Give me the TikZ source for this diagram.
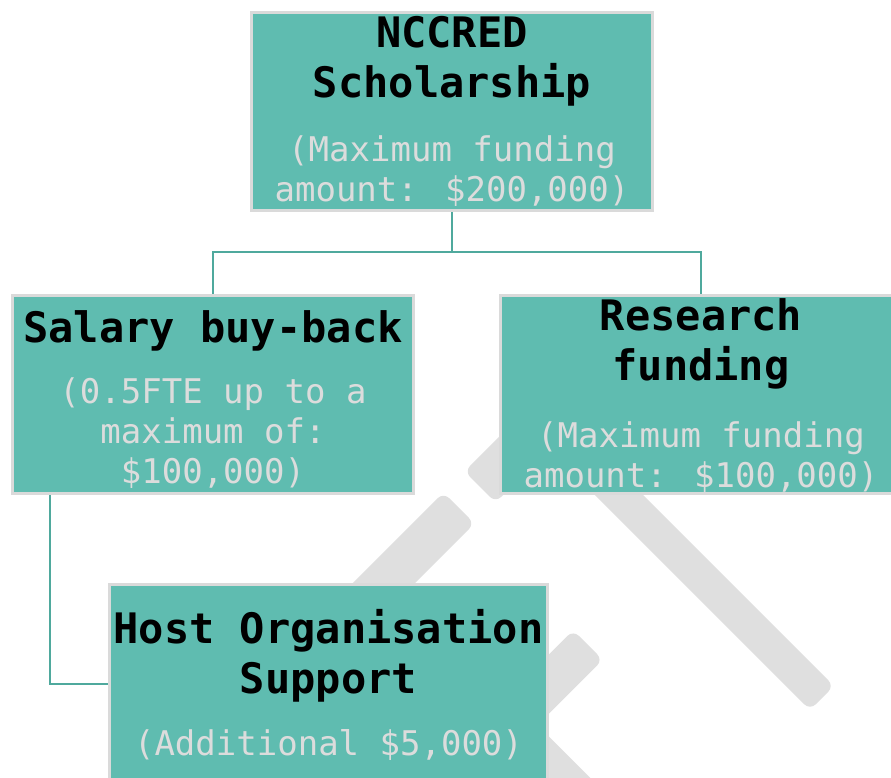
\documentclass[tikz,border=0pt]{standalone}
\usepackage{fontspec}
\newfontfamily\monofont{DejaVu Sans Mono}
\usetikzlibrary{calc,positioning}

\definecolor{boxfill}{HTML}{5FBCB0}
\definecolor{boxedge}{HTML}{DADADA}
\definecolor{linkteal}{HTML}{4FA99D}
\definecolor{notegray}{HTML}{DCDCDC}
\definecolor{markgray}{HTML}{DFDFDF}

% grey bar of the watermark: from, to, half width
\newcommand{\greybar}[3]{%
  \fill[markgray, rounded corners=8pt] ($(#1)!#3!90:(#2)$) -- ($(#2)!#3!-90:(#1)$)
    -- ($(#2)!#3!90:(#1)$) -- ($(#1)!#3!-90:(#2)$) -- cycle;}

\tikzset{
  fundbox/.style={draw=boxedge, line width=3pt, fill=boxfill, minimum width=401pt, minimum height=198pt, inner sep=0pt},
  boxtitle/.style={font=\monofont\bfseries\fontsize{42}{50}\selectfont, text=black, align=center, inner sep=0pt, anchor=base},
  boxnote/.style={font=\monofont\fontsize{34}{40}\selectfont, text=notegray, align=center, inner sep=0pt, anchor=base},
  link/.style={draw=linkteal, line width=2pt}
}

\begin{document}
\begin{tikzpicture}[x=1pt, y=-1pt]
\useasboundingbox (0,0) rectangle (891,778);
\clip (0,0) rectangle (891,778);
% watermark
\greybar{545,421}{822,698}{17pt}
\greybar{480,487}{611,356}{22pt}
\greybar{459,508}{330,637}{22pt}
\greybar{588,645}{490,743}{21pt}
\greybar{520,736}{660,876}{20pt}
% boxes
\node[fundbox] (schol) at (452,111.5) {};
\node[fundbox] (salary) at (213,394.5) {};
\node[fundbox] (research) at (701,394.5) {};
\node[fundbox, minimum width=438pt] (host) at (328.5,683.5) {};
% texts (base = last line)
\node[boxtitle] (schol-title) at (452,98) {NCCRED\\Scholarship};
\node[boxnote] (schol-note) at (452,202) {(Maximum funding\\amount: \$200,000)};
\node[boxtitle] (salary-title) at (213,342) {Salary buy-back};
\node[boxnote] (salary-note) at (213,483) {(0.5FTE up to a\\maximum of:\\\$100,000)};
\node[boxtitle] (research-title) at (701,380) {Research\\funding};
\node[boxnote] (research-note) at (701,487) {(Maximum funding\\amount: \$100,000)};
\node[boxtitle] (host-title) at (328.5,693) {Host Organisation\\Support};
\node[boxnote] (host-note) at (328.5,755) {(Additional \$5,000)};
% links
\draw[link] (schol.south) -- ++(0,40) -| (salary.north);
\draw[link] (schol.south) -- ++(0,40) -| (research.north);
\draw[link] ([xshift=39pt]salary.south west) |- (host.west);
\end{tikzpicture}
\end{document}
